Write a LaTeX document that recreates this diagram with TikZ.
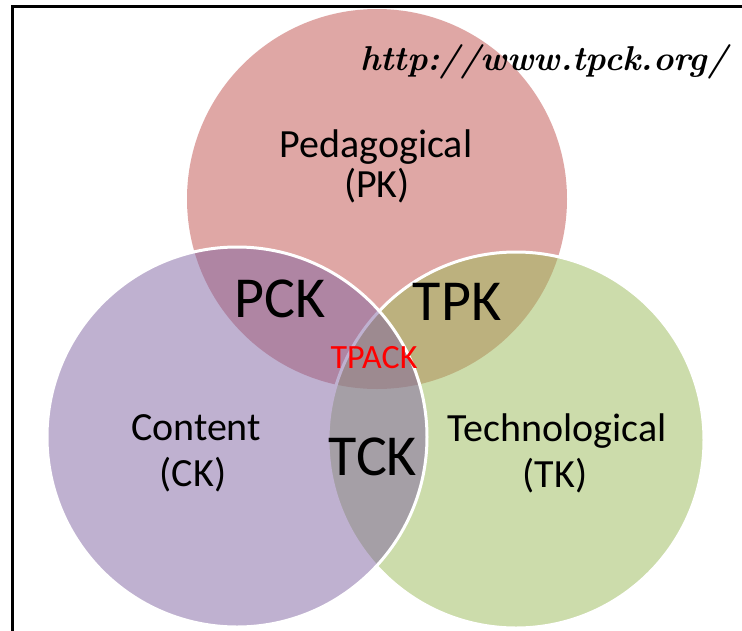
\documentclass[tikz,border=0pt]{standalone}
\usepackage{fontspec}
\setmainfont{Carlito}
\newfontfamily\urlfont{Latin Modern Roman}
\definecolor{ored}{HTML}{C0504D}
\definecolor{ogreen}{HTML}{9BBB59}
\definecolor{opurple}{HTML}{8064A2}
\begin{document}
\begin{tikzpicture}[x=1pt,y=-1pt,
  circ/.style={fill opacity=0.5, draw=white, draw opacity=1, line width=3pt},
  lbl/.style={font=\fontsize{40}{44}\selectfont, text=black, anchor=base, inner sep=0pt},
  big/.style={font=\fontsize{58}{60}\selectfont, text=black, anchor=base, inner sep=0pt},
  core/.style={font=\fontsize{34}{36}\selectfont, text=red, anchor=base, inner sep=0pt},
  frame/.style={draw=black, line width=3pt}]
\useasboundingbox (0,0) rectangle (742,630);
\fill[white] (0,0) rectangle (742,630);
% circles
\path[fill=ored, fill opacity=0.5] (377,199) circle (190);
\path[circ, fill=ogreen] (516,440) circle (188);
\path[circ, fill=opurple] (237,437) circle (190);
% frame (top and left only, picture is cropped)
\coordinate (ftl) at (12,6);
\coordinate (ftr) at (745,6);
\coordinate (fbl) at (12,633);
\draw[frame] (ftr) -- (ftl) -- (fbl);
% labels
\node[lbl] (ped) at (376,157) {Pedagogical};
\node[lbl] (pk) at (377,197) {(PK)};
\node[lbl] (con) at (196,440) {Content};
\node[lbl] (ck) at (193,486) {(CK)};
\node[lbl] (tech) at (557,441) {Technological};
\node[lbl] (tk) at (555,487) {(TK)};
\node[big] (pck) at (280,317) {PCK};
\node[big] (tpk) at (457,320) {TPK};
\node[big] (tck) at (373,475) {TCK};
\node[core] (tpack) at (374,368) {TPACK};
\node[font=\urlfont\bfseries\itshape\fontsize{34.5}{40}\selectfont, anchor=base west, inner sep=0pt] (url) at (360,70) {http://www.tpck.org/};
\end{tikzpicture}
\end{document}
